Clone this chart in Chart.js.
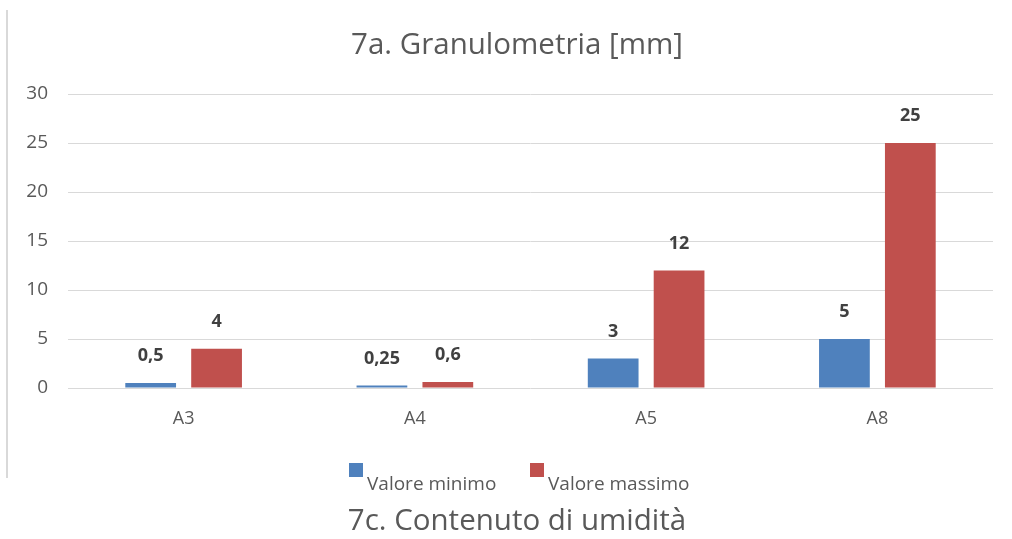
<!DOCTYPE html>
<html>
<head>
<meta charset="utf-8">
<script src="https://cdn.jsdelivr.net/npm/chart.js@4"></script>
<style>
  html,body{margin:0;padding:0;background:#fff;}
  #wrap{position:relative;width:1012px;height:539px;}
</style>
</head>
<body>
<div id="wrap"><canvas id="chart" width="1012" height="539"></canvas></div>
<script>
// data
const categories = ["A3", "A4", "A5", "A8"];
const valoreMinimo = [0.5, 0.25, 3, 5];
const valoreMassimo = [4, 0.6, 12, 25];
const seriesNames = ["Valore minimo", "Valore massimo"];
const yTicks = [0, 5, 10, 15, 20, 25, 30];

const FONT = "'Open Sans', 'Noto Sans', sans-serif";
const GREY = "#595959";

/* title, frame line, legend, bottom caption and value labels */
const decorPlugin = {
    id: "decor",
    beforeDraw(chart){
        const ctx = chart.ctx;
        ctx.save();
        ctx.fillStyle = "#D9D9D9";
        ctx.fillRect(6, 10, 2, 468);
        ctx.restore();
    },
    afterDatasetsDraw(chart){
        const ctx = chart.ctx;
        ctx.save();

        // value labels
        ctx.font = "bold 18px " + FONT;
        ctx.fillStyle = "#404040";
        ctx.textAlign = "center";
        ctx.textBaseline = "middle";
        chart.data.datasets.forEach((ds, i)=>{
            chart.getDatasetMeta(i).data.forEach((bar, j)=>{
                const txt = String(ds.data[j]).replace(".", ",");
                ctx.fillText(txt, bar.x, bar.y - 27);
            });
        });

        // title
        ctx.font = "29.5px " + FONT;
        ctx.fillStyle = GREY;
        ctx.fillText("7a. Granulometria [mm]", 517, 46);

        // legend
        ctx.font = "19px " + FONT;
        ctx.textAlign = "left";
        const items = [{x:349}, {x:530}];
        chart.data.datasets.forEach((ds, i)=>{
            const x = items[i].x;
            ctx.fillStyle = ds.backgroundColor;
            ctx.fillRect(x, 463, 14, 14);
            ctx.fillStyle = GREY;
            ctx.fillText(ds.label, x + 18, 485);
        });

        // caption of next chart
        ctx.textAlign = "center";
        ctx.font = "29.5px " + FONT;
        ctx.fillText("7c. Contenuto di umidità", 517, 522);

        ctx.restore();
    }
};

new Chart(document.getElementById("chart").getContext("2d"),{
    type:"bar",
    data:{
        labels:categories,
        datasets:[
            {
                label:seriesNames[0],
                data:valoreMinimo,
                backgroundColor:"#4F81BD",
                categoryPercentage:0.57,
                barPercentage:0.77
            },
            {
                label:seriesNames[1],
                data:valoreMassimo,
                backgroundColor:"#C0504D",
                categoryPercentage:0.57,
                barPercentage:0.77
            }
        ]
    },
    options:{
        responsive:false,
        animation:false,
        layout:{ padding:{ left:0, right:19, top:94, bottom:101 } },
        plugins:{
            legend:{ display:false },
            title:{ display:false },
            tooltip:{ enabled:false }
        },
        scales:{
            x:{
                grid:{ display:false, drawTicks:false },
                border:{ display:false },
                ticks:{ color:GREY, font:{ family:FONT, size:18 }, padding:20 },
                afterFit(scale){ scale.height = 50; }
            },
            y:{
                min:0,
                max:30,
                afterBuildTicks(scale){ scale.ticks = yTicks.map(v=>({value:v})); },
                grid:{ color:"#D9D9D9", lineWidth:1, drawTicks:false },
                border:{ display:false },
                ticks:{ color:GREY, font:{ family:FONT, size:19 }, padding:20 },
                afterFit(scale){ scale.width = 68; }
            }
        }
    },
    plugins:[decorPlugin]
});
</script>
</body>
</html>
